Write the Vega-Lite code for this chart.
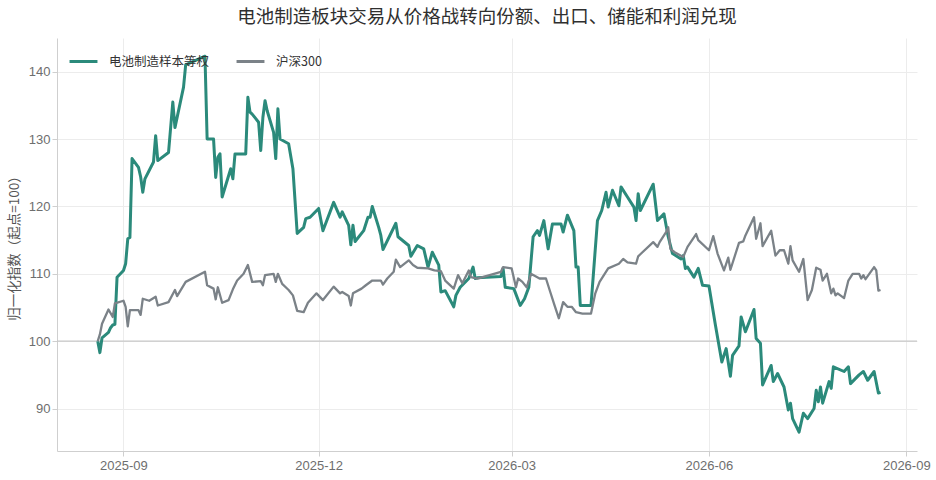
{
  "$schema": "https://vega.github.io/schema/vega-lite/v6.json",
  "description": "电池制造样本等权 vs 沪深300, normalised to 100 at start.",
  "width": 860,
  "height": 413,
  "autosize": {"type": "none"},
  "padding": {"left": 57, "top": 38, "right": 19, "bottom": 29},
  "title": {
    "text": "电池制造板块交易从价格战转向份额、出口、储能和利润兑现",
    "fontSize": 18.5,
    "fontWeight": "normal",
    "color": "#2f2f2f",
    "font": "Noto Sans CJK SC",
    "anchor": "middle",
    "offset": 12
  },
  "config": {
    "view": {"stroke": null},
    "font": "Liberation Sans, Noto Sans CJK SC",
    "axis": {
      "domainColor": "#cfcfcf",
      "tickColor": "#cfcfcf",
      "gridColor": "#ececec",
      "labelColor": "#6e6e6e",
      "labelFontSize": 13,
      "titleColor": "#555555",
      "titleFontWeight": "normal",
      "titleFontSize": 13.5,
      "tickSize": 5
    },
    "legend": {
      "labelFontSize": 12.5,
      "labelColor": "#333333",
      "labelFont": "Noto Sans CJK SC"
    }
  },
  "datasets": {
    "sample": [
      {"date": "2025-08-20", "v": 100.0}, {"date": "2025-08-21", "v": 98.3}, {"date": "2025-08-22", "v": 100.5},
      {"date": "2025-08-25", "v": 101.3}, {"date": "2025-08-26", "v": 102.0}, {"date": "2025-08-27", "v": 102.4},
      {"date": "2025-08-28", "v": 102.5}, {"date": "2025-08-29", "v": 109.5}, {"date": "2025-09-01", "v": 110.5},
      {"date": "2025-09-02", "v": 111.5}, {"date": "2025-09-03", "v": 115.2}, {"date": "2025-09-04", "v": 115.4},
      {"date": "2025-09-05", "v": 127.1}, {"date": "2025-09-08", "v": 125.8}, {"date": "2025-09-09", "v": 124.4},
      {"date": "2025-09-10", "v": 122.1}, {"date": "2025-09-11", "v": 124.1}, {"date": "2025-09-15", "v": 126.6},
      {"date": "2025-09-16", "v": 130.5}, {"date": "2025-09-17", "v": 126.8}, {"date": "2025-09-22", "v": 128.0},
      {"date": "2025-09-24", "v": 135.5}, {"date": "2025-09-25", "v": 131.7}, {"date": "2025-09-29", "v": 137.7},
      {"date": "2025-09-30", "v": 141.0}, {"date": "2025-10-09", "v": 142.3}, {"date": "2025-10-10", "v": 130.0},
      {"date": "2025-10-13", "v": 130.0}, {"date": "2025-10-14", "v": 124.3}, {"date": "2025-10-15", "v": 127.3},
      {"date": "2025-10-16", "v": 127.8}, {"date": "2025-10-17", "v": 121.4}, {"date": "2025-10-21", "v": 125.6},
      {"date": "2025-10-22", "v": 124.1}, {"date": "2025-10-23", "v": 127.8}, {"date": "2025-10-28", "v": 127.8},
      {"date": "2025-10-29", "v": 136.2}, {"date": "2025-10-30", "v": 134.0}, {"date": "2025-10-31", "v": 133.7},
      {"date": "2025-11-03", "v": 132.5}, {"date": "2025-11-04", "v": 128.3}, {"date": "2025-11-05", "v": 133.2},
      {"date": "2025-11-06", "v": 135.7}, {"date": "2025-11-07", "v": 134.2}, {"date": "2025-11-10", "v": 131.0},
      {"date": "2025-11-11", "v": 127.1}, {"date": "2025-11-12", "v": 134.5}, {"date": "2025-11-13", "v": 130.0},
      {"date": "2025-11-17", "v": 129.3}, {"date": "2025-11-19", "v": 125.6}, {"date": "2025-11-21", "v": 116.0},
      {"date": "2025-11-24", "v": 116.9}, {"date": "2025-11-25", "v": 118.2}, {"date": "2025-11-27", "v": 118.4},
      {"date": "2025-12-01", "v": 119.7}, {"date": "2025-12-03", "v": 116.4}, {"date": "2025-12-08", "v": 120.6},
      {"date": "2025-12-11", "v": 118.4}, {"date": "2025-12-12", "v": 119.2}, {"date": "2025-12-15", "v": 117.2},
      {"date": "2025-12-16", "v": 114.3}, {"date": "2025-12-17", "v": 117.2}, {"date": "2025-12-18", "v": 114.8},
      {"date": "2025-12-22", "v": 116.4}, {"date": "2025-12-24", "v": 118.4}, {"date": "2025-12-25", "v": 118.4},
      {"date": "2025-12-26", "v": 120.0}, {"date": "2025-12-29", "v": 116.9}, {"date": "2025-12-30", "v": 115.7},
      {"date": "2025-12-31", "v": 113.6}, {"date": "2026-01-06", "v": 117.5}, {"date": "2026-01-07", "v": 115.5},
      {"date": "2026-01-12", "v": 114.2}, {"date": "2026-01-13", "v": 112.6}, {"date": "2026-01-16", "v": 114.2},
      {"date": "2026-01-19", "v": 113.7}, {"date": "2026-01-21", "v": 111.0}, {"date": "2026-01-23", "v": 113.2},
      {"date": "2026-01-26", "v": 111.3}, {"date": "2026-01-27", "v": 107.3}, {"date": "2026-01-29", "v": 107.5},
      {"date": "2026-02-02", "v": 105.1}, {"date": "2026-02-03", "v": 106.8}, {"date": "2026-02-05", "v": 108.0},
      {"date": "2026-02-09", "v": 109.3}, {"date": "2026-02-11", "v": 111.0}, {"date": "2026-02-12", "v": 109.3},
      {"date": "2026-02-13", "v": 109.4}, {"date": "2026-02-24", "v": 109.6}, {"date": "2026-02-25", "v": 110.8},
      {"date": "2026-02-26", "v": 108.0}, {"date": "2026-03-02", "v": 107.8}, {"date": "2026-03-05", "v": 105.3},
      {"date": "2026-03-07", "v": 106.3}, {"date": "2026-03-09", "v": 108.0}, {"date": "2026-03-11", "v": 115.5},
      {"date": "2026-03-13", "v": 116.4}, {"date": "2026-03-14", "v": 115.7}, {"date": "2026-03-16", "v": 117.9},
      {"date": "2026-03-18", "v": 113.7}, {"date": "2026-03-20", "v": 117.4}, {"date": "2026-03-24", "v": 117.4},
      {"date": "2026-03-25", "v": 116.2}, {"date": "2026-03-27", "v": 118.7}, {"date": "2026-03-30", "v": 116.4},
      {"date": "2026-03-31", "v": 111.0}, {"date": "2026-04-01", "v": 111.0}, {"date": "2026-04-02", "v": 105.3},
      {"date": "2026-04-07", "v": 105.3}, {"date": "2026-04-08", "v": 109.5}, {"date": "2026-04-10", "v": 117.9},
      {"date": "2026-04-12", "v": 119.4}, {"date": "2026-04-14", "v": 122.1}, {"date": "2026-04-15", "v": 119.9},
      {"date": "2026-04-17", "v": 122.4}, {"date": "2026-04-20", "v": 120.1}, {"date": "2026-04-21", "v": 122.9},
      {"date": "2026-04-24", "v": 121.4}, {"date": "2026-04-27", "v": 119.9}, {"date": "2026-04-28", "v": 117.9},
      {"date": "2026-04-29", "v": 121.9}, {"date": "2026-04-30", "v": 119.4}, {"date": "2026-05-06", "v": 123.3},
      {"date": "2026-05-08", "v": 117.9}, {"date": "2026-05-11", "v": 118.9}, {"date": "2026-05-13", "v": 115.5},
      {"date": "2026-05-15", "v": 113.0}, {"date": "2026-05-19", "v": 112.2}, {"date": "2026-05-20", "v": 112.7},
      {"date": "2026-05-21", "v": 110.8}, {"date": "2026-05-22", "v": 111.0}, {"date": "2026-05-25", "v": 109.5},
      {"date": "2026-05-27", "v": 110.8}, {"date": "2026-05-29", "v": 108.3}, {"date": "2026-06-01", "v": 108.2},
      {"date": "2026-06-04", "v": 102.4}, {"date": "2026-06-07", "v": 96.9}, {"date": "2026-06-09", "v": 98.9},
      {"date": "2026-06-11", "v": 94.8}, {"date": "2026-06-12", "v": 97.9}, {"date": "2026-06-15", "v": 99.3},
      {"date": "2026-06-16", "v": 103.6}, {"date": "2026-06-18", "v": 101.4}, {"date": "2026-06-22", "v": 104.7},
      {"date": "2026-06-23", "v": 100.4}, {"date": "2026-06-25", "v": 99.7}, {"date": "2026-06-26", "v": 93.5},
      {"date": "2026-06-30", "v": 96.4}, {"date": "2026-07-01", "v": 94.0}, {"date": "2026-07-03", "v": 95.2},
      {"date": "2026-07-06", "v": 93.2}, {"date": "2026-07-08", "v": 89.8}, {"date": "2026-07-09", "v": 90.8},
      {"date": "2026-07-10", "v": 88.5}, {"date": "2026-07-13", "v": 86.5}, {"date": "2026-07-15", "v": 89.3},
      {"date": "2026-07-17", "v": 88.5}, {"date": "2026-07-20", "v": 90.0}, {"date": "2026-07-21", "v": 92.7},
      {"date": "2026-07-22", "v": 91.0}, {"date": "2026-07-23", "v": 93.2}, {"date": "2026-07-24", "v": 90.8},
      {"date": "2026-07-27", "v": 94.0}, {"date": "2026-07-28", "v": 93.0}, {"date": "2026-07-29", "v": 96.2},
      {"date": "2026-08-03", "v": 95.5}, {"date": "2026-08-05", "v": 96.2}, {"date": "2026-08-06", "v": 93.7},
      {"date": "2026-08-10", "v": 95.0}, {"date": "2026-08-12", "v": 95.5}, {"date": "2026-08-14", "v": 94.2},
      {"date": "2026-08-17", "v": 95.5}, {"date": "2026-08-19", "v": 92.3}, {"date": "2026-08-20", "v": 92.4}
    ],
    "hs300": [
      {"date": "2025-08-20", "v": 100.0}, {"date": "2025-08-21", "v": 101.0}, {"date": "2025-08-22", "v": 102.6},
      {"date": "2025-08-25", "v": 104.7}, {"date": "2025-08-27", "v": 103.6}, {"date": "2025-08-28", "v": 105.6},
      {"date": "2025-09-01", "v": 106.0}, {"date": "2025-09-02", "v": 105.1}, {"date": "2025-09-03", "v": 102.2},
      {"date": "2025-09-04", "v": 104.6}, {"date": "2025-09-08", "v": 104.6}, {"date": "2025-09-09", "v": 103.9},
      {"date": "2025-09-10", "v": 106.3}, {"date": "2025-09-13", "v": 106.0}, {"date": "2025-09-16", "v": 106.6},
      {"date": "2025-09-17", "v": 105.3}, {"date": "2025-09-22", "v": 105.8}, {"date": "2025-09-25", "v": 107.6},
      {"date": "2025-09-26", "v": 106.7}, {"date": "2025-09-30", "v": 108.8}, {"date": "2025-10-09", "v": 110.3},
      {"date": "2025-10-10", "v": 108.3}, {"date": "2025-10-13", "v": 107.8}, {"date": "2025-10-14", "v": 106.2},
      {"date": "2025-10-15", "v": 108.0}, {"date": "2025-10-17", "v": 105.7}, {"date": "2025-10-20", "v": 106.1},
      {"date": "2025-10-22", "v": 107.7}, {"date": "2025-10-24", "v": 109.0}, {"date": "2025-10-27", "v": 110.0},
      {"date": "2025-10-29", "v": 111.3}, {"date": "2025-10-31", "v": 108.8}, {"date": "2025-11-04", "v": 108.9},
      {"date": "2025-11-05", "v": 108.3}, {"date": "2025-11-06", "v": 109.8}, {"date": "2025-11-10", "v": 110.0},
      {"date": "2025-11-11", "v": 108.8}, {"date": "2025-11-12", "v": 110.0}, {"date": "2025-11-14", "v": 108.5},
      {"date": "2025-11-17", "v": 107.6}, {"date": "2025-11-19", "v": 106.8}, {"date": "2025-11-21", "v": 104.5},
      {"date": "2025-11-24", "v": 104.3}, {"date": "2025-11-26", "v": 105.7}, {"date": "2025-11-30", "v": 107.1},
      {"date": "2025-12-03", "v": 106.1}, {"date": "2025-12-08", "v": 108.1}, {"date": "2025-12-11", "v": 107.1},
      {"date": "2025-12-12", "v": 107.3}, {"date": "2025-12-15", "v": 106.7}, {"date": "2025-12-16", "v": 105.3},
      {"date": "2025-12-17", "v": 107.1}, {"date": "2025-12-21", "v": 107.8}, {"date": "2025-12-23", "v": 108.3},
      {"date": "2025-12-26", "v": 109.0}, {"date": "2025-12-30", "v": 109.0}, {"date": "2025-12-31", "v": 108.4},
      {"date": "2026-01-02", "v": 109.3}, {"date": "2026-01-05", "v": 110.3}, {"date": "2026-01-06", "v": 112.1},
      {"date": "2026-01-08", "v": 111.0}, {"date": "2026-01-12", "v": 112.0}, {"date": "2026-01-14", "v": 111.3},
      {"date": "2026-01-16", "v": 110.9}, {"date": "2026-01-21", "v": 110.8}, {"date": "2026-01-24", "v": 110.5},
      {"date": "2026-01-27", "v": 110.4}, {"date": "2026-01-29", "v": 109.0}, {"date": "2026-02-02", "v": 107.8},
      {"date": "2026-02-04", "v": 109.8}, {"date": "2026-02-06", "v": 108.6}, {"date": "2026-02-09", "v": 110.5},
      {"date": "2026-02-10", "v": 109.5}, {"date": "2026-02-13", "v": 109.3}, {"date": "2026-02-24", "v": 110.3},
      {"date": "2026-02-25", "v": 111.0}, {"date": "2026-03-01", "v": 110.8}, {"date": "2026-03-03", "v": 108.0},
      {"date": "2026-03-04", "v": 109.3}, {"date": "2026-03-06", "v": 108.8}, {"date": "2026-03-08", "v": 108.0},
      {"date": "2026-03-10", "v": 110.0}, {"date": "2026-03-14", "v": 109.3}, {"date": "2026-03-17", "v": 109.3},
      {"date": "2026-03-19", "v": 107.3}, {"date": "2026-03-21", "v": 105.3}, {"date": "2026-03-23", "v": 103.4},
      {"date": "2026-03-25", "v": 105.8}, {"date": "2026-03-27", "v": 105.1}, {"date": "2026-03-29", "v": 105.1},
      {"date": "2026-03-31", "v": 104.3}, {"date": "2026-04-03", "v": 104.1}, {"date": "2026-04-07", "v": 104.1},
      {"date": "2026-04-09", "v": 107.1}, {"date": "2026-04-11", "v": 108.8}, {"date": "2026-04-15", "v": 110.8},
      {"date": "2026-04-20", "v": 111.5}, {"date": "2026-04-22", "v": 112.2}, {"date": "2026-04-24", "v": 111.7},
      {"date": "2026-04-28", "v": 111.5}, {"date": "2026-04-29", "v": 112.6}, {"date": "2026-04-30", "v": 112.9},
      {"date": "2026-05-06", "v": 114.7}, {"date": "2026-05-08", "v": 114.0}, {"date": "2026-05-09", "v": 114.7},
      {"date": "2026-05-12", "v": 116.2}, {"date": "2026-05-13", "v": 116.9}, {"date": "2026-05-14", "v": 113.7},
      {"date": "2026-05-16", "v": 113.2}, {"date": "2026-05-20", "v": 112.5}, {"date": "2026-05-22", "v": 114.0},
      {"date": "2026-05-26", "v": 115.9}, {"date": "2026-05-27", "v": 115.0}, {"date": "2026-06-01", "v": 113.5},
      {"date": "2026-06-03", "v": 115.6}, {"date": "2026-06-05", "v": 113.0}, {"date": "2026-06-08", "v": 110.5},
      {"date": "2026-06-10", "v": 112.4}, {"date": "2026-06-11", "v": 110.6}, {"date": "2026-06-15", "v": 114.6},
      {"date": "2026-06-17", "v": 114.8}, {"date": "2026-06-18", "v": 115.7}, {"date": "2026-06-22", "v": 118.4},
      {"date": "2026-06-23", "v": 115.2}, {"date": "2026-06-25", "v": 117.5}, {"date": "2026-06-26", "v": 114.1},
      {"date": "2026-06-30", "v": 116.4}, {"date": "2026-07-02", "v": 112.7}, {"date": "2026-07-04", "v": 113.5},
      {"date": "2026-07-06", "v": 113.5}, {"date": "2026-07-08", "v": 111.5}, {"date": "2026-07-09", "v": 114.1},
      {"date": "2026-07-10", "v": 112.0}, {"date": "2026-07-13", "v": 110.3}, {"date": "2026-07-15", "v": 112.2},
      {"date": "2026-07-17", "v": 106.1}, {"date": "2026-07-19", "v": 107.6}, {"date": "2026-07-21", "v": 110.9},
      {"date": "2026-07-23", "v": 110.6}, {"date": "2026-07-24", "v": 109.0}, {"date": "2026-07-26", "v": 110.0},
      {"date": "2026-07-28", "v": 107.1}, {"date": "2026-07-29", "v": 107.8}, {"date": "2026-07-30", "v": 106.8},
      {"date": "2026-07-31", "v": 107.1}, {"date": "2026-08-03", "v": 106.4}, {"date": "2026-08-05", "v": 109.0},
      {"date": "2026-08-07", "v": 110.0}, {"date": "2026-08-10", "v": 110.0}, {"date": "2026-08-11", "v": 109.3},
      {"date": "2026-08-12", "v": 109.8}, {"date": "2026-08-13", "v": 109.2}, {"date": "2026-08-17", "v": 111.0},
      {"date": "2026-08-18", "v": 110.5}, {"date": "2026-08-19", "v": 107.5}, {"date": "2026-08-20", "v": 107.6}
    ]
  },
  "encoding": {
    "x": {
      "field": "date",
      "type": "temporal",
      "title": null,
      "scale": {"domain": ["2025-08-01", "2026-09-06"]},
      "axis": {
        "format": "%Y-%m",
        "values": [
          {"year": 2025, "month": 9, "date": 1},
          {"year": 2025, "month": 12, "date": 1},
          {"year": 2026, "month": 3, "date": 1},
          {"year": 2026, "month": 6, "date": 1},
          {"year": 2026, "month": 9, "date": 1}
        ],
        "labelPadding": 3,
        "labelFlush": false
      }
    },
    "y": {
      "field": "v",
      "type": "quantitative",
      "title": "归一化指数（起点=100）",
      "scale": {"domain": [83.7, 145], "nice": false, "zero": false},
      "axis": {"values": [90, 100, 110, 120, 130, 140], "titlePadding": 7, "titleFont": "Noto Sans CJK SC"}
    }
  },
  "layer": [
    {
      "data": {"values": [{"v": 100}]},
      "mark": {"type": "rule", "color": "#c8c8c8", "strokeWidth": 1.2},
      "encoding": {"y": {"field": "v", "type": "quantitative"}, "x": null}
    },
    {
      "data": {"name": "sample"},
      "transform": [{"calculate": "'电池制造样本等权'", "as": "series"}],
      "mark": {"type": "line", "strokeWidth": 3, "strokeJoin": "round"},
      "encoding": {
        "color": {
          "field": "series",
          "type": "nominal",
          "scale": {"domain": ["电池制造样本等权", "沪深300"], "range": ["#2b8a7b", "#7b8288"]},
          "legend": {
            "title": null,
            "orient": "none",
            "legendX": 11,
            "legendY": 8,
            "direction": "horizontal",
            "symbolType": "stroke",
            "symbolStrokeWidth": 3,
            "symbolSize": 780,
            "columnPadding": 20,
            "labelOffset": 10
          }
        }
      }
    },
    {
      "data": {"name": "hs300"},
      "transform": [{"calculate": "'沪深300'", "as": "series"}],
      "mark": {"type": "line", "strokeWidth": 2.3, "strokeJoin": "round"},
      "encoding": {
        "color": {"field": "series", "type": "nominal"}
      }
    }
  ]
}
